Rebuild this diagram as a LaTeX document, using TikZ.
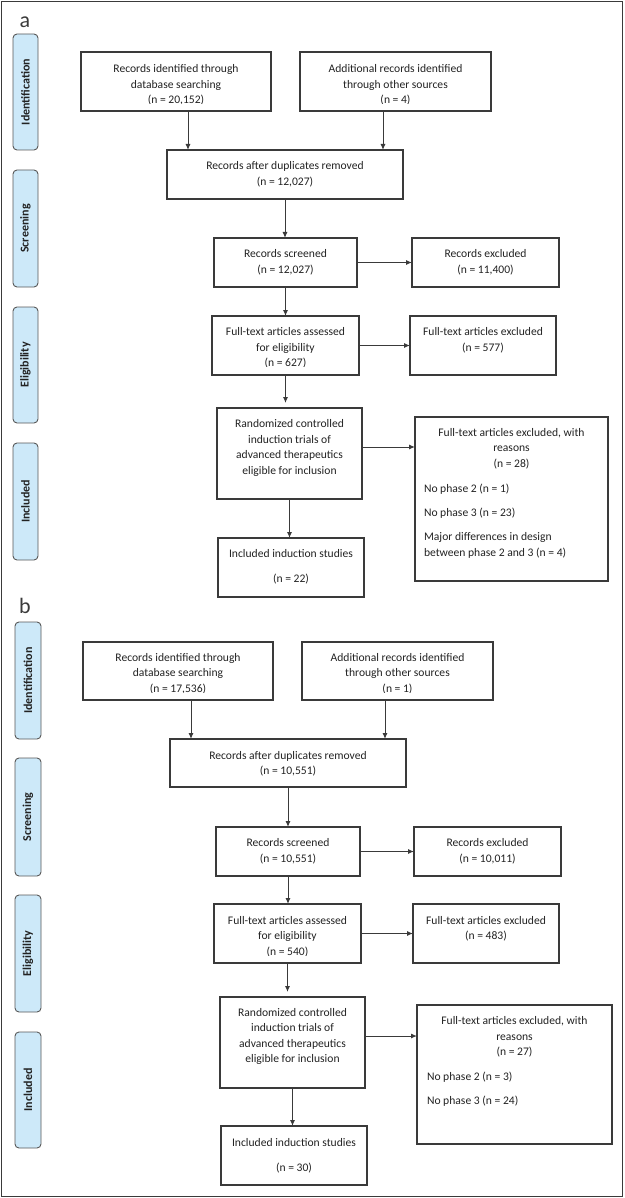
\documentclass[tikz,border=0pt]{standalone}
\usepackage{fontspec}
\setmainfont{Carlito}
\usetikzlibrary{arrows.meta}
\definecolor{ln}{HTML}{3A3A3A}
\definecolor{pillfill}{HTML}{CDE9F9}
\definecolor{tx}{HTML}{222222}
\tikzset{
  box/.style={draw=ln, line width=1.1pt, inner sep=0pt, outer sep=0pt},
  txt/.style={inner sep=0pt, outer sep=0pt, text=tx, align=center, font=\fontsize{11.6}{15.5}\selectfont},
  ltxt/.style={txt, align=left, anchor=west},
  pill/.style={draw=ln!85, line width=0.9pt, fill=pillfill, rounded corners=4pt, inner sep=0pt, outer sep=0pt, text=tx, font=\bfseries\fontsize{12}{14}\selectfont},
  arr/.style={draw=ln, line width=1pt, -{Latex[length=6pt,width=5pt]}},
  frame/.style={draw=ln, line width=1.2pt},
  panel/.style={text=ln, font=\fontsize{22}{22}\selectfont, inner sep=0pt, anchor=base}
}
\newcommand\bx[5]{\node[box,minimum width={#4-#2},minimum height={#5-#3}] (#1) at ({(#2+#4)/2},{(#3+#5)/2}) {};}
\begin{document}
\begin{tikzpicture}[x=1pt,y=-1pt]
\useasboundingbox (0,0) rectangle (624,1198);
\draw[frame] (1.5,1.5) rectangle (622.5,1196.5);

% ---------------- panel a ----------------
\node[panel] (la) at (25,28) {a};
\node[pill, rotate=90, minimum width=116pt, minimum height=25pt] (pa1) at (25.5,92) {Identification};
\node[pill, rotate=90, minimum width=117pt, minimum height=25pt] (pa2) at (25.5,228.5) {Screening};
\node[pill, rotate=90, minimum width=116pt, minimum height=25pt] (pa3) at (25.5,365) {Eligibility};
\node[pill, rotate=90, minimum width=117pt, minimum height=25pt] (pa4) at (25.5,501.5) {Included};

\bx{a1}{81}{52}{271}{111}
\bx{a2}{300}{52}{491}{111}
\bx{a3}{167}{150}{403}{199}
\bx{a4}{214}{238}{357}{287}
\bx{a5}{412}{238}{559}{287}
\bx{a6}{212}{316}{359}{375}
\bx{a7}{410}{316}{556}{375}
\bx{a8}{217}{408}{362}{499}
\bx{a9}{415}{417}{608}{581}
\bx{a10}{218}{538}{364}{597}

\begin{scope}
\clip (81,52) rectangle (271,104);
\node[txt] (a1t) at (176,85) {Records identified through\\database searching\\(n = 20,152)};
\end{scope}
\begin{scope}
\clip (300,52) rectangle (491,104);
\node[txt] (a2t) at (395.5,85) {Additional records identified\\through other sources\\(n = 4)};
\end{scope}
\node[txt] (a3t) at (285,174.5) {Records after duplicates removed\\(n = 12,027)};
\node[txt] (a4t) at (285.5,262.5) {Records screened\\(n = 12,027)};
\node[txt] (a5t) at (485.5,262.5) {Records excluded\\(n = 11,400)};
\begin{scope}
\clip (212,316) rectangle (359,366);
\node[txt] (a6t) at (285.5,348) {Full-text articles assessed\\for eligibility\\(n = 627)};
\end{scope}
\node[txt] (a7t) at (483,340.5) {Full-text articles excluded\\(n = 577)};
\node[txt] (a8t) at (289.5,448) {Randomized controlled\\induction trials of\\advanced therapeutics\\eligible for inclusion};
\node[txt] (a9t) at (511.5,448.5) {Full-text articles excluded, with\\reasons\\(n = 28)};
\node[ltxt] (a9l1) at (424,489.5) {No phase 2 (n = 1)};
\node[ltxt] (a9l2) at (424,513.5) {No phase 3 (n = 23)};
\node[ltxt] (a9l3) at (424,545.5) {Major differences in design\\between phase 2 and 3 (n = 4)};
\node[txt] (a10t) at (291,567) {Included induction studies\\[9.5pt](n = 22)};

\draw[arr] ([xshift=12pt]a1.south) -- ([xshift=12pt]a1.south |- a3.north);
\draw[arr] ([xshift=-12.5pt]a2.south) -- ([xshift=-12.5pt]a2.south |- a3.north);
\draw[arr] (a3.south) -- (a3.south |- a4.north);
\draw[arr] (a4.east) -- (a4.east -| a5.west);
\draw[arr] (a4.south) -- (a4.south |- a6.north);
\draw[arr] (a6.east) -- (a6.east -| a7.west);
\draw[arr, shorten >=5pt] (a6.south) -- (a6.south |- a8.north);
\coordinate (ya) at (0,447);
\draw[arr] (a8.east |- ya) -- (a9.west |- ya);
\draw[arr] (a8.south) -- (a8.south |- a10.north);

% ---------------- panel b ----------------
\node[panel] (lb) at (25,613) {b};
\node[pill, rotate=90, minimum width=117pt, minimum height=26pt] (pb1) at (28,680.5) {Identification};
\node[pill, rotate=90, minimum width=118pt, minimum height=26pt] (pb2) at (28,817) {Screening};
\node[pill, rotate=90, minimum width=117pt, minimum height=26pt] (pb3) at (28,953.5) {Eligibility};
\node[pill, rotate=90, minimum width=116pt, minimum height=26pt] (pb4) at (28,1090) {Included};

\bx{b1}{83}{642}{273}{700}
\bx{b2}{302}{642}{493}{700}
\bx{b3}{170}{739}{406}{787}
\bx{b4}{216}{827}{360}{876}
\bx{b5}{414}{827}{561}{876}
\bx{b6}{214}{904}{361}{963}
\bx{b7}{413}{904}{559}{963}
\bx{b8}{220}{997}{365}{1088}
\bx{b9}{417}{1005}{612}{1144}
\bx{b10}{221}{1126}{367}{1185}

\begin{scope}
\clip (83,642) rectangle (273,692);
\node[txt] (b1t) at (178,673.5) {Records identified through\\database searching\\(n = 17,536)};
\end{scope}
\begin{scope}
\clip (302,642) rectangle (493,692);
\node[txt] (b2t) at (397.5,673.5) {Additional records identified\\through other sources\\(n = 1)};
\end{scope}
\node[txt] (b3t) at (288,764) {Records after duplicates removed\\(n = 10,551)};
\node[txt] (b4t) at (288,851.5) {Records screened\\(n = 10,551)};
\node[txt] (b5t) at (487.5,851.5) {Records excluded\\(n = 10,011)};
\begin{scope}
\clip (214,904) rectangle (361,955);
\node[txt] (b6t) at (287.5,936.5) {Full-text articles assessed\\for eligibility\\(n = 540)};
\end{scope}
\node[txt] (b7t) at (486,929) {Full-text articles excluded\\(n = 483)};
\node[txt] (b8t) at (292.5,1036.5) {Randomized controlled\\induction trials of\\advanced therapeutics\\eligible for inclusion};
\node[txt] (b9t) at (514.5,1037) {Full-text articles excluded, with\\reasons\\(n = 27)};
\node[ltxt] (b9l1) at (427,1077.5) {No phase 2 (n = 3)};
\node[ltxt] (b9l2) at (427,1101.5) {No phase 3 (n = 24)};
\node[txt] (b10t) at (294,1156) {Included induction studies\\[9.5pt](n = 30)};

\draw[arr] ([xshift=13pt]b1.south) -- ([xshift=13pt]b1.south |- b3.north);
\draw[arr] ([xshift=-12.5pt]b2.south) -- ([xshift=-12.5pt]b2.south |- b3.north);
\draw[arr] (b3.south) -- (b3.south |- b4.north);
\draw[arr] (b4.east) -- (b4.east -| b5.west);
\draw[arr] (b4.south) -- (b4.south |- b6.north);
\draw[arr] (b6.east) -- (b6.east -| b7.west);
\draw[arr, shorten >=5pt] (b6.south) -- (b6.south |- b8.north);
\coordinate (yb) at (0,1036);
\draw[arr] (b8.east |- yb) -- (b9.west |- yb);
\draw[arr] (b8.south) -- (b8.south |- b10.north);
\end{tikzpicture}
\end{document}
